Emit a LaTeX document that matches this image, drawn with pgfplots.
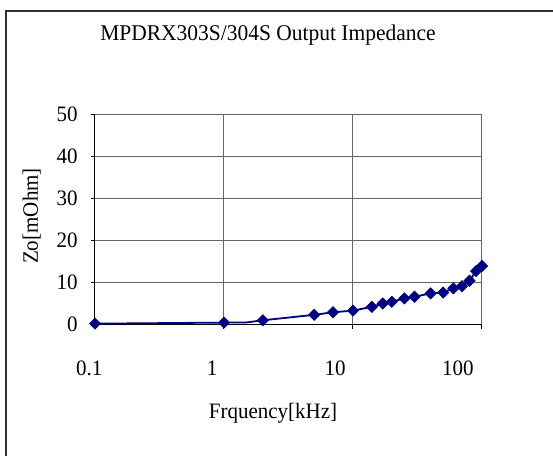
\documentclass[border=0pt]{standalone}
\usepackage{pgfplots}
\pgfplotsset{compat=1.18}
\usepackage{fontspec}
\setmainfont{Liberation Serif}
\definecolor{navy}{RGB}{0,0,128}
\begin{document}
\begin{tikzpicture}
\useasboundingbox (0,0) rectangle (276.5pt,-228pt);
\begin{scope}
\clip (0,0) rectangle (276.5pt,-228pt);
\draw[black!80, line width=0.7pt] (3pt,-5.4pt) rectangle (300pt,-250pt);
\end{scope}
\begin{axis}[
  at={(47.5pt,-162.25pt)}, anchor=south west,
  scale only axis, width=193.5pt, height=105.25pt,
  xmode=log, xmin=0.1, xmax=100, ymin=0, ymax=50,
  xtick={0.1,1,10,100}, xticklabels={0.1,1,10,100},
  ytick={0,10,20,30,40,50},
  xminorticks=false,
  grid=major, major grid style={black!60, line width=0.5pt},
  axis x line*=bottom, axis y line*=left,
  axis line style={black, line width=0.5pt, -},
  tick style={black, line width=0.5pt},
  tick align=outside, major tick length=2pt,
  tick label style={font=\fontsize{11}{12}\selectfont, xscale=0.955},
  /pgf/number format/assume math mode=true,
  xticklabel style={anchor=center, yshift=-20pt, xshift=-3pt-3.2pt*\ticknum},
  yticklabel style={anchor=east, xshift=-3.5pt},
  clip=false,
]
\addplot[navy, line width=0.9pt, no marks] coordinates {
(0.1,0.2) (1,0.45) (1.5,0.5) (2,1.0) (5,2.3) (7,2.9) (10,3.3) (14,4.2) (17,5.0) (20,5.4) (25,6.2) (30,6.6) (40,7.4) (50,7.6) (60,8.6) (70,9.1) (80,10.4) (90,12.7) (100,13.9)
};
\addplot[navy, only marks, mark=square*, mark size=1.95pt, mark options={rotate=45, fill=navy, draw=navy}] coordinates {
(0.1,0.2) (1,0.45) (2,1.0) (5,2.3) (7,2.9) (10,3.3) (14,4.2) (17,5.0) (20,5.4) (25,6.2) (30,6.6) (40,7.4) (50,7.6) (60,8.6) (70,9.1) (80,10.4) (90,12.7) (100,13.9)
};
\end{axis}
\node[anchor=base, xscale=0.955, font=\fontsize{11.25}{12}\selectfont] at (134pt,-20pt) {MPDRX303S/304S Output Impedance};
\node[anchor=base, xscale=0.955, font=\fontsize{11}{12}\selectfont] at (136.5pt,-209pt) {Frquency[kHz]};
\node[anchor=base, rotate=90, xscale=0.955, font=\fontsize{11}{12}\selectfont] at (19pt,-108pt) {Zo[mOhm]};
\end{tikzpicture}
\end{document}
